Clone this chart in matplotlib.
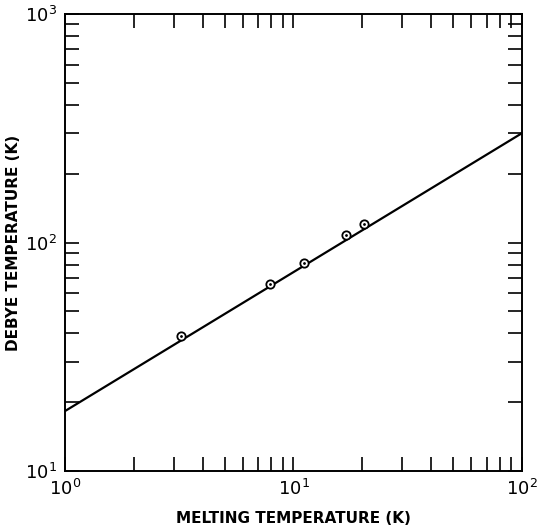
import numpy as np
import matplotlib.pyplot as plt
from matplotlib.ticker import LogLocator, NullFormatter

# data
melt_T = [3.22, 7.9, 11.1, 17.0, 20.4]
debye_T = [39.1, 65.8, 81.6, 108, 121]
fit_x = [1, 100]
fit_y = [18.3, 301]

plt.rcParams['font.family'] = ['DejaVu Sans']
plt.rcParams['mathtext.default'] = 'regular'

fig = plt.figure(figsize=(5.42, 5.29), dpi=100)
ax = fig.add_axes([0.120, 0.1096, 0.843, 0.8639])

ax.plot(fit_x, fit_y, color='black', lw=1.6, zorder=2)
ax.plot(melt_T, debye_T, 'o', ms=6, mfc='white', mec='black', mew=1.3, zorder=3)
ax.plot(melt_T, debye_T, '.', ms=2, color='black', zorder=4)

ax.set_xscale('log')
ax.set_yscale('log')
ax.set_xlim(1, 100)
ax.set_ylim(10, 1000)

for a in (ax.xaxis, ax.yaxis):
    a.set_major_locator(LogLocator(base=10))
    a.set_minor_locator(LogLocator(base=10, subs=np.arange(2, 10)))
    a.set_minor_formatter(NullFormatter())

ax.tick_params(which='both', direction='in', top=True, right=True, width=1.2)
ax.tick_params(which='major', length=10, labelsize=13, pad=6)
ax.tick_params(which='minor', length=10)
for s in ax.spines.values():
    s.set_linewidth(1.4)

ax.set_xlabel('MELTING TEMPERATURE (K)', fontsize=11, fontweight='bold', labelpad=8)
ax.set_ylabel('DEBYE TEMPERATURE (K)', fontsize=11, fontweight='bold', labelpad=3)

fig.savefig('out.png', dpi=100)
